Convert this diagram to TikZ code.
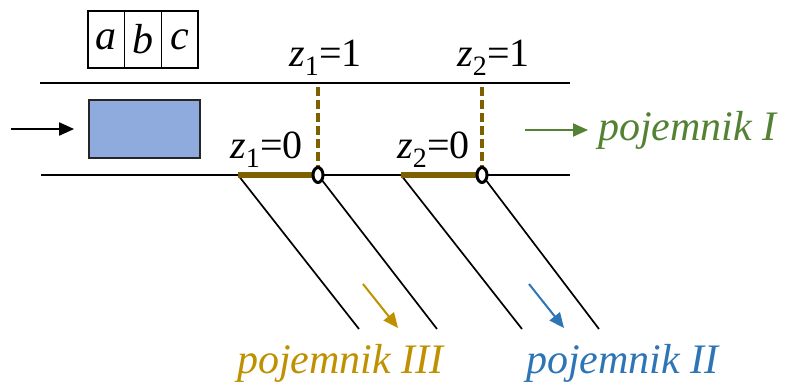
\documentclass[tikz,border=0pt]{standalone}
\usepackage{fontspec}
\setmainfont{Liberation Serif}
\usetikzlibrary{shapes,arrows.meta,positioning}
\definecolor{gatebrown}{HTML}{7F6000}
\definecolor{bingold}{HTML}{BF9000}
\definecolor{binblue}{HTML}{2E75B6}
\definecolor{bingreen}{HTML}{548235}
\definecolor{partblue}{HTML}{8FAADC}

\begin{document}
\begin{tikzpicture}[x=1pt,y=-1pt,
    cell/.style={rectangle,draw,line width=1.5pt,minimum width=36.7pt,minimum height=57pt,inner sep=0pt,outer sep=0pt,font=\fontsize{42}{44}\selectfont\itshape},
    part/.style={rectangle,draw=black!85,line width=1.8pt,fill=partblue,minimum width=111pt,minimum height=58pt},
    valve/.style={ellipse,draw,line width=3pt,fill=white,minimum width=10pt,minimum height=15pt,inner sep=0pt},
    zlabel/.style={anchor=base west,inner sep=0pt,font=\fontsize{40}{42}\selectfont},
    bin/.style={anchor=base west,inner sep=0pt,font=\fontsize{42}{44}\selectfont\itshape},
    wall/.style={line width=2pt},
    chute/.style={line width=1.7pt},
    gate/.style={gatebrown,line width=5.5pt},
    rod/.style={gatebrown,line width=3.5pt,dash pattern=on 9pt off 4pt},
    arrow/.style={-{Triangle[length=15pt,width=13pt]},line width=2pt}]
    \useasboundingbox (0,0) rectangle (788,383);
    \node[cell] (ca) at (106.3,39.5) {a};
    \node[cell,right=0pt of ca] (cb) {b};
    \node[cell,right=0pt of cb] (cc) {c};
    \node[part] (box) at (144.5,129) {};
    \coordinate (in) at (11,129);
    \draw[arrow] (in) -- (box.west) [shorten >=14pt];
    \coordinate (t1) at (40,83); \coordinate (t2) at (570,83);
    \coordinate (b1) at (41,175); \coordinate (b2) at (570,175);
    \draw[wall] (t1) -- (t2); \draw[wall] (b1) -- (b2);
    \coordinate (s1) at (238,175); \coordinate (g1) at (318,175);
    \coordinate (s2) at (401,175); \coordinate (g2) at (482,175);
    \coordinate (e1) at (359,329); \coordinate (f1) at (437,329);
    \coordinate (e2) at (522,329); \coordinate (f2) at (599,329);
    \coordinate (r1) at (318,87); \coordinate (r2) at (482,87);
    \draw[chute] (s1) -- (e1); \draw[chute] (g1) -- (f1);
    \draw[chute] (s2) -- (e2); \draw[chute] (g2) -- (f2);
    \draw[gate] (s1) -- (g1); \draw[gate] (s2) -- (g2);
    \draw[rod] (r1) -- (g1); \draw[rod] (r2) -- (g2);
    \node[valve] (v1) at (g1) {};
    \node[valve] (v2) at (g2) {};
    \node[zlabel] (z1up) at (289,66) {\textit{z}\textsubscript{1}=1};
    \node[zlabel] (z2up) at (457,66) {\textit{z}\textsubscript{2}=1};
    \node[zlabel] (z1dn) at (230,158) {\textit{z}\textsubscript{1}=0};
    \node[zlabel] (z2dn) at (397,158) {\textit{z}\textsubscript{2}=0};
    \node[bin,text=bingreen] (p1) at (598,140) {pojemnik I};
    \node[bin,text=bingold] (p3) at (237,373) {pojemnik III};
    \node[bin,text=binblue] (p2) at (526,373) {pojemnik II};
    \coordinate (a1) at (525,130); \coordinate (a3) at (363,284); \coordinate (a2) at (529,284);
    \coordinate (h3) at (398,328); \coordinate (h2) at (564,328);
    \draw[arrow,bingreen] (a1) -- (p1.west |- a1) [shorten >=10pt];
    \draw[arrow,bingold] (a3) -- (h3); \draw[arrow,binblue] (a2) -- (h2);
\end{tikzpicture}
\end{document}
